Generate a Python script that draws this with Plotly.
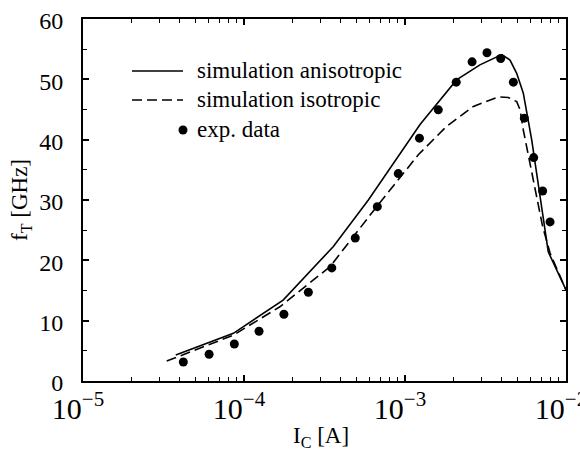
import plotly.graph_objects as go

# ---- data ----
exp_x = [4.20e-5, 6.07e-5, 8.71e-5, 1.24e-4, 1.77e-4, 2.51e-4, 3.51e-4, 4.91e-4,
         6.73e-4, 9.08e-4, 1.23e-3, 1.61e-3, 2.08e-3, 2.61e-3, 3.23e-3, 3.93e-3,
         4.71e-3, 5.51e-3, 6.30e-3, 7.16e-3, 7.96e-3]
exp_y = [3.15, 4.43, 6.13, 8.24, 11.06, 14.71, 18.74, 23.71, 28.9, 34.38, 40.25,
         44.94, 49.53, 52.9, 54.4, 53.45, 49.53, 43.57, 37.03, 31.5, 26.37]

aniso_x = [3.77e-5, 8.59e-5, 1.75e-4, 3.59e-4, 5.92e-4, 1.24e-3, 2.09e-3, 2.92e-3,
           3.99e-3, 4.49e-3, 4.94e-3, 5.43e-3, 6.12e-3, 6.90e-3, 7.76e-3, 1.0e-2]
aniso_y = [4.3, 7.9, 13.4, 22.3, 30.0, 42.5, 49.9, 52.4, 54.1, 53.2, 51.0, 47.7,
           40.0, 30.6, 21.4, 15.1]

iso_x = [3.31e-5, 8.59e-5, 1.67e-4, 3.42e-4, 6.67e-4, 1.21e-3, 1.81e-3, 2.66e-3,
         3.80e-3, 4.38e-3, 4.94e-3, 5.18e-3, 5.43e-3, 5.97e-3, 6.57e-3, 7.16e-3,
         7.96e-3, 1.0e-2]
iso_y = [3.3, 7.6, 12.3, 18.95, 28.9, 37.5, 42.2, 45.5, 47.1, 47.0, 46.3, 45.0,
         41.6, 36.2, 30.6, 25.6, 21.2, 15.1]

legend_labels = ["simulation anisotropic", "simulation isotropic", "exp. data"]
x_title = "I<sub>C</sub> [A]"
y_title = "f<sub>T</sub> [GHz]"

FONT = "Liberation Serif, Times New Roman, serif"
DASH = "10px,5px"

fig = go.Figure()
fig.add_trace(go.Scatter(x=aniso_x, y=aniso_y, mode="lines",
                         line=dict(color="black", width=1.6), showlegend=False))
fig.add_trace(go.Scatter(x=iso_x, y=iso_y, mode="lines",
                         line=dict(color="black", width=1.6, dash=DASH),
                         showlegend=False))
fig.add_trace(go.Scatter(x=exp_x, y=exp_y, mode="markers",
                         marker=dict(color="black", size=9), showlegend=False))

# plot area in pixels: x 83..566, y 19..381
L, R, T, B = 83, 566, 19, 381
W, H = R - L, B - T
def px(x):
    return (x - L) / W
def py(y):
    return (B - y) / H

shapes = [
    dict(type="line", xref="paper", yref="paper", x0=px(132), x1=px(183),
         y0=py(71), y1=py(71), line=dict(color="black", width=1.6)),
    dict(type="line", xref="paper", yref="paper", x0=px(132), x1=px(183),
         y0=py(100), y1=py(100), line=dict(color="black", width=1.6, dash=DASH)),
    dict(type="circle", xref="paper", yref="paper", x0=px(178.5), x1=px(187.5),
         y0=py(125.5), y1=py(134.5), fillcolor="black", line=dict(color="black", width=0)),
]
annotations = []
for lab, yy in zip(legend_labels, [70, 99, 129]):
    annotations.append(dict(text=lab, xref="paper", yref="paper", x=px(195), y=py(yy),
                            xanchor="left", yanchor="middle", showarrow=False,
                            font=dict(family=FONT, size=23, color="black")))
annotations.append(dict(text=x_title, xref="paper", yref="paper", x=px(321), y=py(437),
                        xanchor="center", yanchor="middle", showarrow=False,
                        font=dict(family=FONT, size=23, color="black")))
annotations.append(dict(text=y_title, xref="paper", yref="paper", x=px(21), y=py(200),
                        xanchor="center", yanchor="middle", showarrow=False, textangle=-90,
                        font=dict(family=FONT, size=23, color="black")))

fig.update_layout(
    width=580, height=453,
    margin=dict(l=L, r=580 - R, t=T, b=453 - B, autoexpand=False),
    paper_bgcolor="white", plot_bgcolor="white",
    font=dict(family=FONT, size=23, color="black"),
    shapes=shapes, annotations=annotations,
    showlegend=False,
)
fig.update_xaxes(type="log", range=[-5, -2], dtick=1, exponentformat="power",
                 automargin=False, ticklabeloverflow="allow",
                 showgrid=False, zeroline=False, showline=True, linecolor="black",
                 linewidth=2, mirror="allticks", ticks="inside", ticklen=6, tickwidth=1.5,
                 tickcolor="black", ticklabelstandoff=1, ticklabelshift=-5,
                 tickfont=dict(family=FONT, size=24, color="black"),
                 minor=dict(dtick="D1", ticks="inside", ticklen=4, tickwidth=1.2,
                            tickcolor="black", showgrid=False))
fig.update_yaxes(range=[0, 60], dtick=10, showgrid=False, zeroline=False,
                 automargin=False, ticklabeloverflow="allow",
                 showline=True, linecolor="black", linewidth=2, mirror="allticks",
                 ticks="inside", ticklen=6, tickwidth=1.5, tickcolor="black",
                 ticklabelstandoff=13, ticklabelshift=2,
                 tickfont=dict(family=FONT, size=24, color="black"),
                 minor=dict(dtick=5, ticks="inside", ticklen=4, tickwidth=1.2,
                            tickcolor="black", showgrid=False))

fig.write_html("out.html")
